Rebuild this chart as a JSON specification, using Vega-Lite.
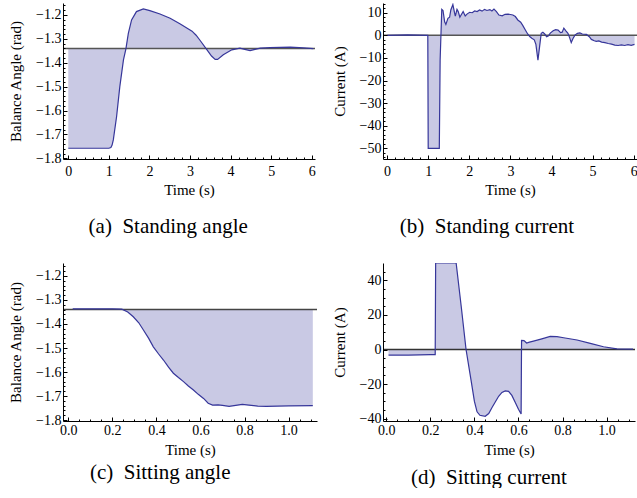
{
  "$schema": "https://vega.github.io/schema/vega-lite/v6.json",
  "padding": {"left": 8, "top": 3, "right": 0, "bottom": 0},
  "bounds": "flush",
  "columns": 2,
  "spacing": {"row": 104, "column": 66},
  "datasets": {
    "a": [
      {"t": 0, "v": -1.758}, {"t": 0.5, "v": -1.758}, {"t": 1.0, "v": -1.758}, {"t": 1.05, "v": -1.755},
      {"t": 1.08, "v": -1.745}, {"t": 1.11, "v": -1.723}, {"t": 1.19, "v": -1.626}, {"t": 1.27, "v": -1.5},
      {"t": 1.36, "v": -1.388}, {"t": 1.42, "v": -1.342}, {"t": 1.48, "v": -1.277}, {"t": 1.56, "v": -1.221},
      {"t": 1.68, "v": -1.186}, {"t": 1.85, "v": -1.175}, {"t": 2.01, "v": -1.182}, {"t": 2.26, "v": -1.196},
      {"t": 2.51, "v": -1.214}, {"t": 2.75, "v": -1.237}, {"t": 2.95, "v": -1.258}, {"t": 3.05, "v": -1.268},
      {"t": 3.15, "v": -1.285}, {"t": 3.25, "v": -1.307}, {"t": 3.41, "v": -1.344}, {"t": 3.53, "v": -1.372},
      {"t": 3.62, "v": -1.386}, {"t": 3.68, "v": -1.386}, {"t": 3.82, "v": -1.367}, {"t": 4.03, "v": -1.346},
      {"t": 4.23, "v": -1.339}, {"t": 4.35, "v": -1.344}, {"t": 4.48, "v": -1.349}, {"t": 4.6, "v": -1.344},
      {"t": 4.73, "v": -1.339}, {"t": 4.97, "v": -1.337}, {"t": 5.47, "v": -1.335}, {"t": 5.8, "v": -1.338},
      {"t": 6.04, "v": -1.341}
    ],
    "b": [
      {"t": 0, "v": 0}, {"t": 0.5, "v": 0.2}, {"t": 0.99, "v": 0}, {"t": 1.0, "v": -50}, {"t": 1.27, "v": -50},
      {"t": 1.29, "v": -11}, {"t": 1.33, "v": 11.5}, {"t": 1.36, "v": 11}, {"t": 1.4, "v": 6}, {"t": 1.43, "v": 4.8},
      {"t": 1.48, "v": 7.5}, {"t": 1.52, "v": 8}, {"t": 1.55, "v": 11.2}, {"t": 1.6, "v": 13.6}, {"t": 1.64, "v": 10},
      {"t": 1.66, "v": 8.5}, {"t": 1.7, "v": 11.5}, {"t": 1.73, "v": 10.5}, {"t": 1.77, "v": 8}, {"t": 1.8, "v": 9},
      {"t": 1.85, "v": 10.5}, {"t": 1.9, "v": 8.6}, {"t": 1.95, "v": 9.5}, {"t": 2.01, "v": 10.2}, {"t": 2.07, "v": 10.0},
      {"t": 2.13, "v": 10.8}, {"t": 2.19, "v": 10.5}, {"t": 2.25, "v": 11.2}, {"t": 2.31, "v": 10.7}, {"t": 2.37, "v": 11.5},
      {"t": 2.43, "v": 11.0}, {"t": 2.5, "v": 11.4}, {"t": 2.55, "v": 10.8}, {"t": 2.6, "v": 11.6}, {"t": 2.66, "v": 10.5},
      {"t": 2.72, "v": 9.0}, {"t": 2.8, "v": 8.6}, {"t": 2.87, "v": 9.3}, {"t": 2.94, "v": 9.4}, {"t": 3.0, "v": 9.2},
      {"t": 3.06, "v": 9.0}, {"t": 3.12, "v": 8.3}, {"t": 3.18, "v": 6.8}, {"t": 3.25, "v": 5.8}, {"t": 3.3, "v": 4.4},
      {"t": 3.36, "v": 2.5}, {"t": 3.42, "v": 0.6}, {"t": 3.47, "v": -0.5}, {"t": 3.52, "v": -1.3}, {"t": 3.58, "v": -2},
      {"t": 3.62, "v": -4}, {"t": 3.67, "v": -11}, {"t": 3.71, "v": -5}, {"t": 3.75, "v": 0.9}, {"t": 3.79, "v": 1.4},
      {"t": 3.84, "v": 0.5}, {"t": 3.88, "v": -0.6}, {"t": 3.92, "v": -0.3}, {"t": 3.97, "v": 1.0}, {"t": 4.04, "v": 2.0},
      {"t": 4.1, "v": 2.5}, {"t": 4.16, "v": 2.3}, {"t": 4.22, "v": 1.2}, {"t": 4.26, "v": 1.4}, {"t": 4.3, "v": 3.2},
      {"t": 4.35, "v": 2.0}, {"t": 4.4, "v": 0.9}, {"t": 4.44, "v": -1}, {"t": 4.48, "v": -3.2}, {"t": 4.52, "v": -1.5},
      {"t": 4.57, "v": 0.1}, {"t": 4.63, "v": 0.9}, {"t": 4.69, "v": 1.1}, {"t": 4.75, "v": 0.6}, {"t": 4.85, "v": 0.4},
      {"t": 4.92, "v": -0.6}, {"t": 4.97, "v": -1.8}, {"t": 5.04, "v": -2.4}, {"t": 5.09, "v": -2.7}, {"t": 5.15, "v": -2.5},
      {"t": 5.22, "v": -3.0}, {"t": 5.3, "v": -3.2}, {"t": 5.38, "v": -3.6}, {"t": 5.46, "v": -3.9}, {"t": 5.54, "v": -4.3},
      {"t": 5.62, "v": -4.5}, {"t": 5.7, "v": -4.2}, {"t": 5.78, "v": -4.5}, {"t": 5.86, "v": -4.1}, {"t": 5.94, "v": -4.4},
      {"t": 6.02, "v": -4.0}
    ],
    "c": [
      {"t": 0.02, "v": -1.337}, {"t": 0.1, "v": -1.337}, {"t": 0.2, "v": -1.337}, {"t": 0.243, "v": -1.338},
      {"t": 0.27, "v": -1.35}, {"t": 0.295, "v": -1.37}, {"t": 0.32, "v": -1.395}, {"t": 0.341, "v": -1.425},
      {"t": 0.365, "v": -1.46}, {"t": 0.386, "v": -1.495}, {"t": 0.41, "v": -1.525}, {"t": 0.432, "v": -1.55},
      {"t": 0.455, "v": -1.58}, {"t": 0.477, "v": -1.605}, {"t": 0.5, "v": -1.623}, {"t": 0.523, "v": -1.64},
      {"t": 0.545, "v": -1.658}, {"t": 0.568, "v": -1.675}, {"t": 0.59, "v": -1.693}, {"t": 0.614, "v": -1.71},
      {"t": 0.635, "v": -1.73}, {"t": 0.655, "v": -1.738}, {"t": 0.68, "v": -1.737}, {"t": 0.7, "v": -1.739},
      {"t": 0.73, "v": -1.743}, {"t": 0.76, "v": -1.739}, {"t": 0.79, "v": -1.735}, {"t": 0.82, "v": -1.738},
      {"t": 0.86, "v": -1.742}, {"t": 0.9, "v": -1.743}, {"t": 1.0, "v": -1.741}, {"t": 1.11, "v": -1.74}
    ],
    "d": [
      {"t": 0.01, "v": -3.2}, {"t": 0.1, "v": -3.2}, {"t": 0.2, "v": -3.0}, {"t": 0.222, "v": -3.0},
      {"t": 0.224, "v": 50}, {"t": 0.317, "v": 50}, {"t": 0.34, "v": 25}, {"t": 0.362, "v": 0},
      {"t": 0.385, "v": -18}, {"t": 0.4, "v": -30}, {"t": 0.412, "v": -36}, {"t": 0.425, "v": -38},
      {"t": 0.449, "v": -38.6}, {"t": 0.465, "v": -37}, {"t": 0.48, "v": -33.5}, {"t": 0.494, "v": -30.5},
      {"t": 0.51, "v": -27}, {"t": 0.525, "v": -24.8}, {"t": 0.54, "v": -23.9}, {"t": 0.555, "v": -24.2},
      {"t": 0.57, "v": -26.5}, {"t": 0.585, "v": -30.5}, {"t": 0.6, "v": -34.5}, {"t": 0.612, "v": -37.3},
      {"t": 0.614, "v": 5.3}, {"t": 0.625, "v": 5.2}, {"t": 0.637, "v": 3.8}, {"t": 0.65, "v": 4.3},
      {"t": 0.668, "v": 4.9}, {"t": 0.706, "v": 6.2}, {"t": 0.744, "v": 7.6}, {"t": 0.775, "v": 7.4},
      {"t": 0.805, "v": 6.8}, {"t": 0.866, "v": 5.5}, {"t": 0.926, "v": 3.6}, {"t": 0.986, "v": 1.6},
      {"t": 1.047, "v": 0.4}, {"t": 1.12, "v": 0.2}
    ]
  },
  "concat": [
    {
      "width": 252, "height": 156,
      "title": {"text": "(a)\u00a0 Standing angle", "offset": 19, "dx": 6},
      "data": {"name": "a"},
      "resolve": {"axis": {"x": "independent", "y": "independent"}},
      "layer": [
        {
          "mark": {"type": "area", "color": "#c9c9e4", "clip": true},
          "encoding": {
            "x": {"field": "t", "type": "quantitative", "scale": {"domain": [-0.13, 6.08], "nice": false},
              "axis": {"orient": "bottom", "title": "Time (s)", "format": ".0f", "values": [0,1,2,3,4,5,6], "tickSize": -4, "labelOverlap": false, "zindex": 1, "labelPadding": 9, "titlePadding": 4}},
            "y": {"field": "v", "type": "quantitative", "scale": {"domain": [-1.803, -1.15], "nice": false},
              "axis": {"orient": "left", "title": "Balance Angle (rad)", "format": ".1f", "values": [-1.8,-1.7,-1.6,-1.5,-1.4,-1.3,-1.2], "tickSize": -4, "labelOverlap": false, "zindex": 1}},
            "y2": {"datum": -1.34}
          }
        },
        {
          "data": {"values": [{}]},
          "mark": {"type": "rule", "color": "#555555", "strokeWidth": 1.5},
          "encoding": {"y": {"datum": -1.34, "type": "quantitative", "axis": null}}
        },
        {
          "mark": {"type": "line", "color": "#36369a", "strokeWidth": 1.2, "clip": true},
          "encoding": {
            "x": {"field": "t", "type": "quantitative",
              "axis": {"orient": "bottom", "title": null, "labels": false, "domain": false, "tickSize": -2, "zindex": 1,
                "values": [0,0.2,0.4,0.6,0.8,1,1.2,1.4,1.6,1.8,2,2.2,2.4,2.6,2.8,3,3.2,3.4,3.6,3.8,4,4.2,4.4,4.6,4.8,5,5.2,5.4,5.6,5.8,6]}},
            "y": {"field": "v", "type": "quantitative",
              "axis": {"orient": "left", "title": null, "labels": false, "domain": false, "tickSize": -2, "zindex": 1,
                "values": [-1.8,-1.78,-1.76,-1.74,-1.72,-1.7,-1.68,-1.66,-1.64,-1.62,-1.6,-1.58,-1.56,-1.54,-1.52,-1.5,-1.48,-1.46,-1.44,-1.42,-1.4,-1.38,-1.36,-1.34,-1.32,-1.3,-1.28,-1.26,-1.24,-1.22,-1.2,-1.18,-1.16]}}
          }
        }
      ]
    },
    {
      "width": 254, "height": 156,
      "title": {"text": "(b)\u00a0 Standing current", "offset": 19, "dx": 2},
      "data": {"name": "b"},
      "resolve": {"axis": {"x": "independent", "y": "independent"}},
      "layer": [
        {
          "mark": {"type": "area", "color": "#c9c9e4", "clip": true},
          "encoding": {
            "x": {"field": "t", "type": "quantitative", "scale": {"domain": [-0.1, 6.08], "nice": false},
              "axis": {"orient": "bottom", "title": "Time (s)", "format": ".0f", "values": [0,1,2,3,4,5,6], "tickSize": -4, "labelOverlap": false, "zindex": 1, "labelPadding": 9, "titlePadding": 4}},
            "y": {"field": "v", "type": "quantitative", "scale": {"domain": [-54.7, 14.3], "nice": false},
              "axis": {"orient": "left", "title": "Current (A)", "format": "d", "values": [-50,-40,-30,-20,-10,0,10], "tickSize": -4, "labelOverlap": false, "zindex": 1}},
            "y2": {"datum": 0}
          }
        },
        {
          "data": {"values": [{}]},
          "mark": {"type": "rule", "color": "#555555", "strokeWidth": 1.5},
          "encoding": {"y": {"datum": 0, "type": "quantitative", "axis": null}}
        },
        {
          "mark": {"type": "line", "color": "#36369a", "strokeWidth": 1.2, "clip": true},
          "encoding": {
            "x": {"field": "t", "type": "quantitative",
              "axis": {"orient": "bottom", "title": null, "labels": false, "domain": false, "tickSize": -2, "zindex": 1,
                "values": [0,0.2,0.4,0.6,0.8,1,1.2,1.4,1.6,1.8,2,2.2,2.4,2.6,2.8,3,3.2,3.4,3.6,3.8,4,4.2,4.4,4.6,4.8,5,5.2,5.4,5.6,5.8,6]}},
            "y": {"field": "v", "type": "quantitative",
              "axis": {"orient": "left", "title": null, "labels": false, "domain": false, "tickSize": -2, "zindex": 1,
                "values": [-54,-52,-50,-48,-46,-44,-42,-40,-38,-36,-34,-32,-30,-28,-26,-24,-22,-20,-18,-16,-14,-12,-10,-8,-6,-4,-2,0,2,4,6,8,10,12,14]}}
          }
        }
      ]
    },
    {
      "width": 254, "height": 158,
      "title": {"text": "(c)\u00a0 Sitting angle", "offset": 5, "dx": -3},
      "data": {"name": "c"},
      "resolve": {"axis": {"x": "independent", "y": "independent"}},
      "layer": [
        {
          "mark": {"type": "area", "color": "#c9c9e4", "clip": true},
          "encoding": {
            "x": {"field": "t", "type": "quantitative", "scale": {"domain": [-0.024, 1.129], "nice": false},
              "axis": {"orient": "bottom", "title": "Time (s)", "format": ".1f", "values": [0,0.2,0.4,0.6,0.8,1.0], "tickSize": -4, "labelOverlap": false, "zindex": 1, "labelPadding": 6, "titlePadding": 5}},
            "y": {"field": "v", "type": "quantitative", "scale": {"domain": [-1.804, -1.146], "nice": false},
              "axis": {"orient": "left", "title": "Balance Angle (rad)", "format": ".1f", "values": [-1.8,-1.7,-1.6,-1.5,-1.4,-1.3,-1.2], "tickSize": -4, "labelOverlap": false, "zindex": 1}},
            "y2": {"datum": -1.34}
          }
        },
        {
          "data": {"values": [{}]},
          "mark": {"type": "rule", "color": "#444444", "strokeWidth": 1.5},
          "encoding": {"y": {"datum": -1.34, "type": "quantitative", "axis": null}}
        },
        {
          "mark": {"type": "line", "color": "#36369a", "strokeWidth": 1.2, "clip": true},
          "encoding": {
            "x": {"field": "t", "type": "quantitative",
              "axis": {"orient": "bottom", "title": null, "labels": false, "domain": false, "tickSize": -2, "zindex": 1,
                "values": [0,0.05,0.1,0.15,0.2,0.25,0.3,0.35,0.4,0.45,0.5,0.55,0.6,0.65,0.7,0.75,0.8,0.85,0.9,0.95,1,1.05,1.1]}},
            "y": {"field": "v", "type": "quantitative",
              "axis": {"orient": "left", "title": null, "labels": false, "domain": false, "tickSize": -2, "zindex": 1,
                "values": [-1.8,-1.78,-1.76,-1.74,-1.72,-1.7,-1.68,-1.66,-1.64,-1.62,-1.6,-1.58,-1.56,-1.54,-1.52,-1.5,-1.48,-1.46,-1.44,-1.42,-1.4,-1.38,-1.36,-1.34,-1.32,-1.3,-1.28,-1.26,-1.24,-1.22,-1.2,-1.18,-1.16]}}
          }
        }
      ]
    },
    {
      "width": 252, "height": 158,
      "title": {"text": "(d)\u00a0 Sitting current", "offset": 10, "dx": 5},
      "data": {"name": "d"},
      "resolve": {"axis": {"x": "independent", "y": "independent"}},
      "layer": [
        {
          "mark": {"type": "area", "color": "#c9c9e4", "clip": true},
          "encoding": {
            "x": {"field": "t", "type": "quantitative", "scale": {"domain": [-0.015, 1.129], "nice": false},
              "axis": {"orient": "bottom", "title": "Time (s)", "format": ".1f", "values": [0,0.2,0.4,0.6,0.8,1.0], "tickSize": -4, "labelOverlap": false, "zindex": 1, "labelPadding": 6, "titlePadding": 5}},
            "y": {"field": "v", "type": "quantitative", "scale": {"domain": [-41.3, 50], "nice": false},
              "axis": {"orient": "left", "title": "Current (A)", "format": "d", "values": [-40,-20,0,20,40], "tickSize": -4, "labelOverlap": false, "zindex": 1}},
            "y2": {"datum": 0}
          }
        },
        {
          "data": {"values": [{}]},
          "mark": {"type": "rule", "color": "#333333", "strokeWidth": 1.5},
          "encoding": {"y": {"datum": 0, "type": "quantitative", "axis": null}}
        },
        {
          "mark": {"type": "line", "color": "#36369a", "strokeWidth": 1.2, "clip": true},
          "encoding": {
            "x": {"field": "t", "type": "quantitative",
              "axis": {"orient": "bottom", "title": null, "labels": false, "domain": false, "tickSize": -2, "zindex": 1,
                "values": [0,0.05,0.1,0.15,0.2,0.25,0.3,0.35,0.4,0.45,0.5,0.55,0.6,0.65,0.7,0.75,0.8,0.85,0.9,0.95,1,1.05,1.1]}},
            "y": {"field": "v", "type": "quantitative",
              "axis": {"orient": "left", "title": null, "labels": false, "domain": false, "tickSize": -2, "zindex": 1,
                "values": [-40,-35,-30,-25,-20,-15,-10,-5,0,5,10,15,20,25,30,35,40,45]}}
          }
        }
      ]
    }
  ],
  "config": {
    "view": {"stroke": null},
    "font": "Liberation Serif",
    "axis": {
      "grid": false, "domainColor": "#000000", "domainWidth": 1, "tickColor": "#000000", "tickWidth": 1,
      "labelFont": "Liberation Serif", "labelFontSize": 14, "labelColor": "#000000",
      "titleFont": "Liberation Serif", "titleFontSize": 15, "titleFontWeight": "normal", "titleColor": "#000000",
      "labelFlush": false, "labelOverlap": false
    },
    "axisX": {"labelPadding": 8, "titlePadding": 4},
    "axisY": {"labelPadding": 6, "titlePadding": 12},
    "title": {"orient": "bottom", "anchor": "middle", "frame": "bounds", "font": "Liberation Serif", "fontSize": 21, "fontWeight": "normal", "color": "#000000", "offset": 12}
  }
}
